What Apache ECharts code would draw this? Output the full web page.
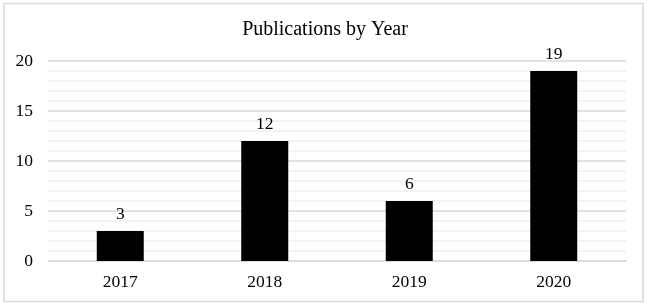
<!DOCTYPE html>
<html>
<head>
<meta charset="utf-8">
<script src="https://cdn.jsdelivr.net/npm/echarts@6/dist/echarts.min.js"></script>
<style>
  html, body { margin: 0; padding: 0; background: #fff; }
  #chart { width: 650px; height: 306px; }
</style>
</head>
<body>
<div id="chart"></div>
<script>
// 数据
const years = ['2017', '2018', '2019', '2020']
const publications = [3, 12, 6, 19]
const yTicks = [0, 5, 10, 15, 20]

const serif = '"Liberation Serif", "DejaVu Serif", serif'

const chart = echarts.init(document.getElementById('chart'))

chart.setOption({
  backgroundColor: '#fff',
  animation: false,
  title: {
    text: 'Publications by Year',
    left: 'center',
    top: 15,
    textStyle: { fontFamily: serif, fontSize: 20, fontWeight: 'normal', color: '#000' }
  },
  graphic: [{
    type: 'rect',
    shape: { x: 4, y: 3.5, width: 639, height: 298 },
    style: { fill: 'none', stroke: '#d9d9d9', lineWidth: 1.5 },
    silent: true
  }],
  grid: { left: 48, right: 24, top: 61, bottom: 45 },
  xAxis: {
    type: 'category',
    data: years,
    axisTick: { show: false },
    axisLine: { lineStyle: { color: '#d9d9d9', width: 1.5 } },
    axisLabel: { fontFamily: serif, fontSize: 17.5, color: '#000', margin: 12 }
  },
  yAxis: {
    type: 'value',
    min: yTicks[0],
    max: yTicks[yTicks.length - 1],
    interval: 5,
    axisLine: { show: false },
    axisTick: { show: false },
    axisLabel: { fontFamily: serif, fontSize: 17.5, color: '#000', margin: 15 },
    splitLine: { lineStyle: { color: '#d9d9d9', width: 1.5 } },
    minorTick: { show: false, splitNumber: 5 },
    minorSplitLine: { show: true, lineStyle: { color: '#efefef', width: 1.5 } }
  },
  series: [{
    type: 'bar',
    data: publications,
    barWidth: 47,
    itemStyle: { color: '#000' },
    label: {
      show: true,
      position: 'top',
      distance: 8,
      fontFamily: serif,
      fontSize: 17.5,
      color: '#000'
    }
  }]
})
</script>
</body>
</html>
